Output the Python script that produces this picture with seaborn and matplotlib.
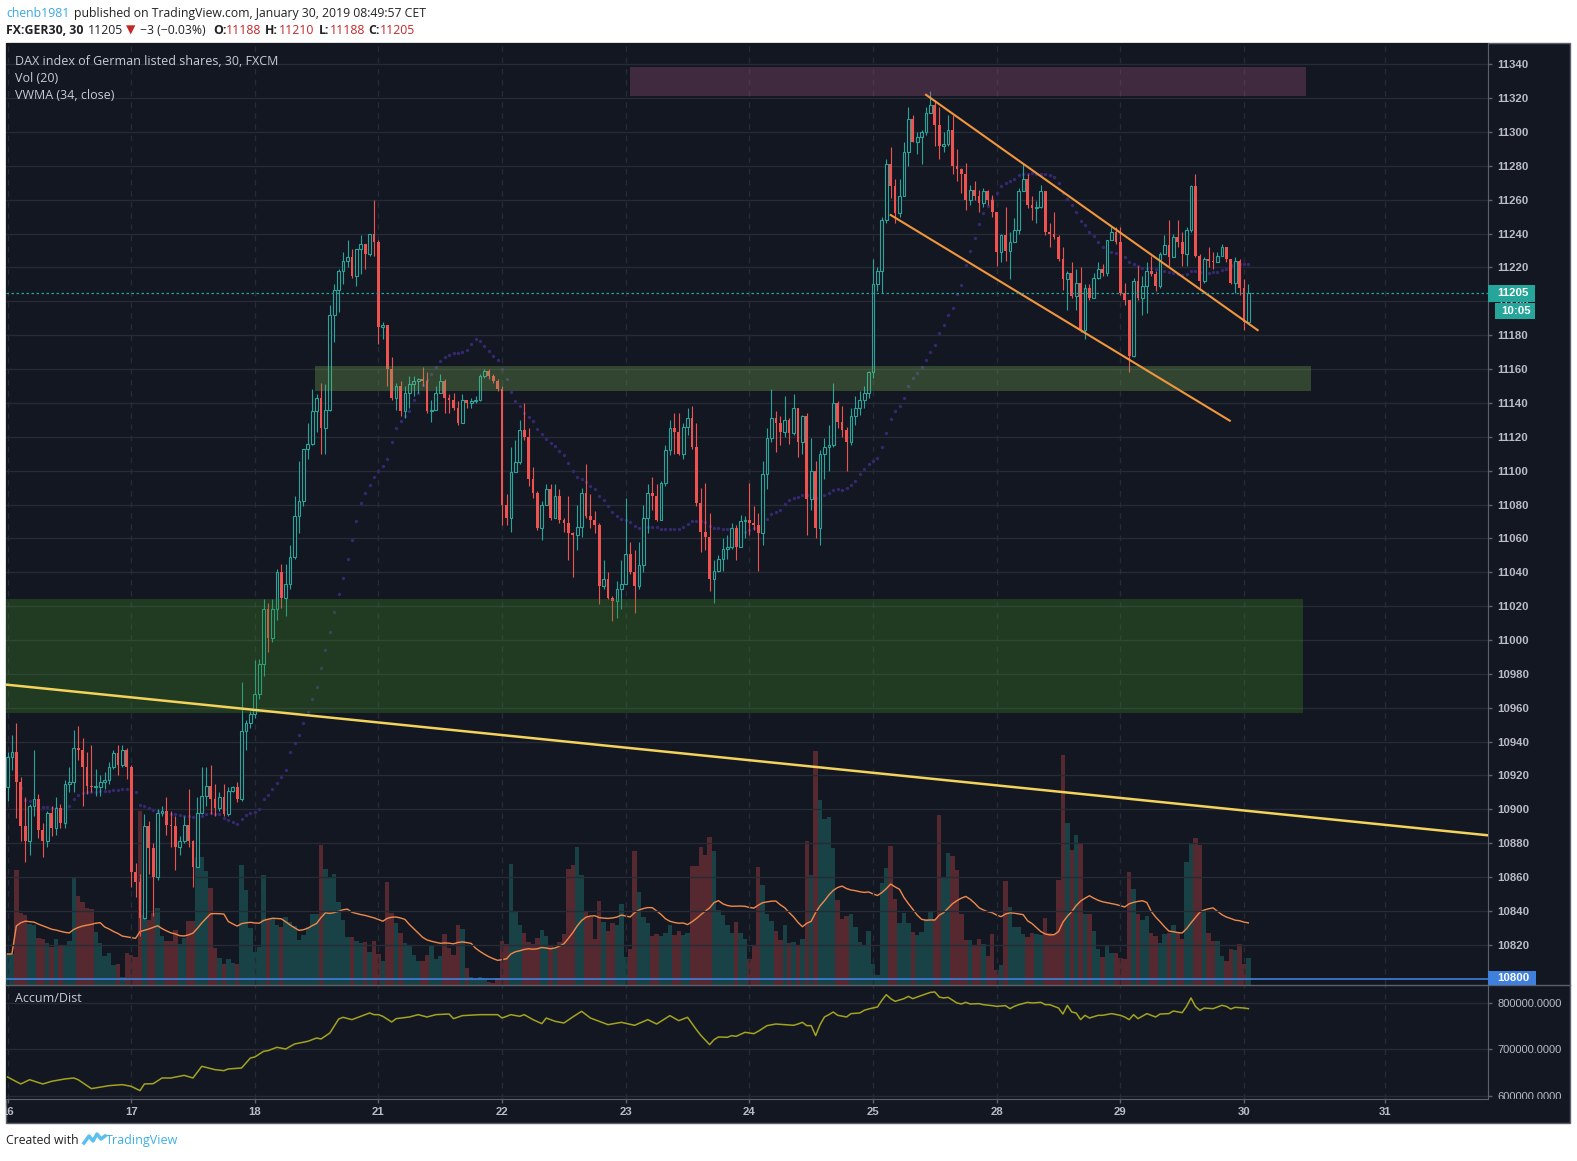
import numpy as np
import pandas as pd
import matplotlib
matplotlib.use("Agg")
import matplotlib.pyplot as plt
import seaborn as sns
from matplotlib.patches import Rectangle
from matplotlib.lines import Line2D
from matplotlib.transforms import Bbox, TransformedBbox

# ---------------- data (FX:GER30, 30 min bars) ----------------
first_open = 10913

closes = [
    # Jan 16
    10931, 10934, 10916, 10890, 10881, 10902, 10906, 10888, 10881, 10898, 10889, 10901, 10892, 10915,
    10916, 10936, 10935, 10925, 10914, 10913, 10913, 10916, 10917, 10925, 10933, 10926, 10935, 10925,
    # Jan 17
    10863, 10857, 10836, 10890, 10877, 10860, 10898, 10899, 10891, 10890, 10878, 10881, 10891, 10881,
    10866, 10898, 10908, 10914, 10906, 10901, 10907, 10897, 10911, 10913, 10906, 10946, 10951, 10956,
    # Jan 18
    10968, 10986, 11018, 11001, 11018, 11040, 11025, 11033, 11049, 11073, 11082, 11113, 11116, 11135,
    11143, 11125, 11136, 11192, 11207, 11218, 11224, 11226, 11215, 11231, 11234, 11228, 11240, 11235,
    # Jan 21
    11185, 11186, 11160, 11143, 11150, 11135, 11146, 11151, 11153, 11154, 11153, 11135, 11136, 11146,
    11153, 11143, 11142, 11137, 11128, 11142, 11140, 11141, 11142, 11156, 11159, 11156, 11153, 11148,
    # Jan 22
    11080, 11072, 11099, 11105, 11124, 11120, 11095, 11087, 11066, 11080, 11089, 11072, 11085, 11071,
    11069, 11063, 11062, 11067, 11087, 11073, 11071, 11068, 11032, 11036, 11025, 11023, 11030, 11033,
    # Jan 23
    11051, 11040, 11032, 11044, 11072, 11087, 11085, 11071, 11093, 11112, 11125, 11123, 11110, 11126,
    11131, 11114, 11081, 11064, 11061, 11036, 11041, 11048, 11054, 11055, 11066, 11055, 11070, 11071,
    # Jan 24
    11069, 11068, 11063, 11098, 11119, 11131, 11128, 11123, 11130, 11122, 11137, 11117, 11132, 11083,
    11100, 11066, 11110, 11114, 11115, 11140, 11129, 11124, 11117, 11132, 11137, 11142, 11146, 11158,
    # Jan 25
    11210, 11218, 11248, 11281, 11268, 11252, 11262, 11288, 11308, 11294, 11297, 11300, 11311, 11316,
    11304, 11292, 11293, 11301, 11280, 11278, 11275, 11260, 11266, 11262, 11258, 11265, 11260, 11253,
    # Jan 28
    11229, 11239, 11230, 11235, 11242, 11265, 11272, 11257, 11255, 11256, 11265, 11241, 11240, 11238,
    11225, 11213, 11217, 11203, 11211, 11183, 11208, 11202, 11214, 11219, 11217, 11236, 11241, 11235,
    # Jan 29
    11205, 11201, 11168, 11212, 11202, 11209, 11218, 11216, 11209, 11228, 11233, 11226, 11238, 11235,
    11228, 11242, 11268, 11227, 11212, 11225, 11224, 11223, 11227, 11232, 11225, 11211, 11224, 11208,
    # Jan 30
    11188, 11205,
]

highs = [
    10934, 10944, 10951, 10919, 10907, 10903, 10935, 10909, 10892, 10899, 10902, 10907, 10903, 10917,
    10925, 10947, 10949, 10942, 10934, 10938, 10924, 10920, 10922, 10928, 10935, 10938, 10938, 10936,
    10926, 10868, 10862, 10897, 10893, 10880, 10900, 10902, 10907, 10899, 10896, 10884, 10896, 10912,
    10882, 10907, 10925, 10925, 10926, 10915, 10910, 10915, 10913, 10914, 10916, 10975, 10953, 10958,
    10988, 10989, 11024, 11022, 11024, 11042, 11045, 11045, 11056, 11085, 11106, 11113, 11128, 11148,
    11145, 11152, 11151, 11198, 11210, 11219, 11229, 11236, 11231, 11231, 11239, 11234, 11240, 11260,
    11236, 11188, 11186, 11167, 11152, 11153, 11150, 11156, 11156, 11155, 11161, 11158, 11142, 11150,
    11157, 11154, 11145, 11146, 11141, 11145, 11142, 11143, 11144, 11157, 11160, 11160, 11157, 11154,
    11150, 11086, 11114, 11118, 11130, 11140, 11125, 11102, 11088, 11082, 11092, 11092, 11092, 11089,
    11072, 11085, 11064, 11080, 11090, 11104, 11086, 11076, 11069, 11047, 11040, 11026, 11035, 11047,
    11084, 11058, 11053, 11058, 11080, 11092, 11096, 11092, 11094, 11115, 11130, 11134, 11134, 11128,
    11137, 11138, 11128, 11090, 11093, 11075, 11047, 11050, 11060, 11062, 11069, 11068, 11074, 11073,
    11093, 11079, 11075, 11106, 11125, 11148, 11135, 11132, 11144, 11131, 11145, 11137, 11133, 11134,
    11119, 11106, 11112, 11119, 11127, 11152, 11141, 11138, 11126, 11137, 11144, 11147, 11150, 11159,
    11225, 11220, 11250, 11284, 11291, 11272, 11272, 11294, 11315, 11310, 11300, 11301, 11315, 11324,
    11319, 11315, 11300, 11310, 11310, 11290, 11279, 11282, 11269, 11271, 11266, 11267, 11266, 11263,
    11253, 11240, 11256, 11241, 11249, 11267, 11281, 11275, 11262, 11259, 11269, 11265, 11246, 11253,
    11239, 11232, 11218, 11223, 11219, 11220, 11210, 11210, 11217, 11223, 11222, 11236, 11244, 11244,
    11244, 11211, 11201, 11214, 11221, 11215, 11223, 11227, 11218, 11229, 11239, 11248, 11240, 11248,
    11241, 11244, 11269, 11275, 11228, 11226, 11232, 11229, 11229, 11234, 11232, 11225, 11226, 11225,
    11213, 11210,
]

lows = [
    10905, 10923, 10895, 10881, 10869, 10873, 10896, 10883, 10872, 10878, 10884, 10885, 10889, 10889,
    10910, 10910, 10929, 10902, 10909, 10910, 10908, 10908, 10912, 10915, 10924, 10920, 10925, 10918,
    10854, 10848, 10825, 10835, 10862, 10837, 10858, 10896, 10885, 10878, 10864, 10873, 10880, 10878,
    10854, 10866, 10897, 10902, 10897, 10896, 10899, 10896, 10896, 10910, 10904, 10905, 10935, 10948,
    10954, 10965, 10979, 10993, 10999, 11012, 11019, 11014, 11030, 11048, 11063, 11079, 11107, 11115,
    11123, 11110, 11110, 11135, 11176, 11194, 11210, 11220, 11214, 11209, 11216, 11219, 11227, 11227,
    11175, 11178, 11150, 11142, 11136, 11132, 11131, 11137, 11144, 11146, 11150, 11134, 11129, 11136,
    11146, 11134, 11134, 11136, 11127, 11128, 11137, 11137, 11140, 11141, 11155, 11154, 11152, 11147,
    11068, 11068, 11064, 11099, 11104, 11118, 11091, 11084, 11065, 11059, 11080, 11071, 11072, 11069,
    11064, 11047, 11037, 11053, 11061, 11072, 11066, 11063, 11021, 11030, 11024, 11011, 11013, 11018,
    11033, 11039, 11016, 11030, 11040, 11063, 11077, 11070, 11071, 11091, 11109, 11110, 11109, 11107,
    11121, 11113, 11079, 11052, 11053, 11029, 11022, 11040, 11041, 11048, 11054, 11047, 11055, 11060,
    11062, 11065, 11041, 11056, 11089, 11117, 11111, 11115, 11120, 11116, 11121, 11108, 11110, 11062,
    11077, 11060, 11056, 11095, 11100, 11114, 11125, 11120, 11100, 11115, 11127, 11133, 11137, 11143,
    11155, 11206, 11205, 11246, 11261, 11246, 11250, 11262, 11280, 11294, 11287, 11281, 11298, 11311,
    11292, 11284, 11288, 11292, 11275, 11271, 11264, 11254, 11257, 11260, 11253, 11256, 11257, 11250,
    11221, 11223, 11224, 11213, 11235, 11240, 11265, 11255, 11248, 11246, 11255, 11239, 11232, 11237,
    11224, 11207, 11195, 11202, 11195, 11182, 11178, 11201, 11202, 11213, 11215, 11215, 11236, 11234,
    11204, 11198, 11158, 11167, 11201, 11192, 11193, 11215, 11206, 11208, 11228, 11221, 11226, 11232,
    11221, 11221, 11241, 11226, 11207, 11211, 11220, 11219, 11223, 11227, 11223, 11210, 11205, 11204,
    11183, 11188,
]

# volume, relative units (no scale shown on the chart)
volumes = [
    31, 31, 115, 72, 70, 61, 60, 47, 46, 42, 38, 46, 39, 39, 44, 107, 89, 83, 77, 76, 53, 42, 29, 32, 20, 21, 8, 32,
    30, 28, 174, 70, 65, 72, 77, 49, 44, 44, 55, 41, 47, 64, 64, 128, 128, 114, 97, 37, 27, 21, 26, 22, 21, 120, 95, 57,
    33, 38, 110, 66, 66, 60, 58, 68, 63, 59, 45, 50, 58, 71, 71, 140, 116, 108, 111, 83, 65, 48, 48, 44, 42, 43, 33, 44,
    31, 24, 103, 72, 62, 52, 42, 40, 30, 24, 24, 30, 39, 26, 29, 51, 37, 30, 60, 56, 17, 8, 6, 8, 6, 3, 2, 7,
    44, 41, 121, 73, 60, 52, 43, 41, 47, 55, 49, 40, 37, 43, 51, 116, 120, 138, 110, 74, 68, 46, 84, 63, 54, 62, 60, 81,
    28, 36, 134, 93, 68, 62, 49, 51, 49, 52, 60, 50, 54, 50, 52, 119, 119, 138, 130, 148, 134, 75, 70, 60, 52, 63, 52, 46,
    26, 39, 118, 100, 71, 64, 54, 45, 60, 42, 43, 39, 46, 144, 110, 234, 185, 166, 168, 137, 85, 66, 69, 71, 58, 43, 40, 54,
    21, 10, 102, 117, 139, 86, 62, 72, 62, 53, 50, 53, 66, 73, 66, 170, 108, 132, 129, 115, 71, 45, 45, 40, 46, 41, 29, 51,
    15, 20, 104, 78, 58, 58, 51, 48, 52, 51, 50, 67, 52, 51, 105, 230, 162, 135, 150, 141, 71, 71, 54, 36, 28, 40, 32, 32,
    27, 26, 113, 96, 71, 65, 69, 52, 49, 42, 51, 52, 60, 53, 46, 123, 142, 147, 140, 75, 52, 44, 44, 29, 24, 36, 35, 41,
    21, 27,
]

# Accumulation/Distribution readings (bar, value)
ad_readings = [
    (0, 640900), (3, 625800), (5, 635000), (8, 625800), (10, 631600), (13, 636600), (15, 638700),
    (16, 635000), (19, 615800), (23, 622200), (26, 624400), (28, 620800), (30, 611500), (31, 625800),
    (33, 626500), (35, 638700), (37, 638700), (40, 644400), (42, 638700), (44, 663800), (47, 656600),
    (49, 654500), (50, 658100), (53, 660200), (55, 681700), (56, 683900), (58, 696100), (59, 697500),
    (61, 704700), (63, 701100), (65, 711800), (68, 717600), (70, 724700), (71, 722600), (73, 735500),
    (75, 765600), (76, 769200), (78, 764200), (80, 771300), (82, 778500), (83, 774900), (84, 774900),
    (85, 771300), (87, 759100), (88, 766300), (91, 769900), (93, 774900), (95, 769900), (97, 774900),
    (100, 776300), (101, 766300), (103, 772800), (107, 774900), (111, 774900), (112, 767700),
    (114, 774900), (116, 771300), (117, 774900), (119, 764200), (121, 755600), (122, 767700),
    (124, 760600), (126, 757000), (128, 769900), (130, 782100), (132, 767700), (134, 760600),
    (136, 753400), (139, 758400), (142, 752000), (145, 764200), (147, 754800), (150, 772800),
    (152, 762000), (154, 769200), (156, 742700), (157, 730500), (159, 710400), (160, 721200),
    (161, 726900), (163, 726200), (164, 729800), (165, 728300), (167, 736900), (169, 734100),
    (170, 739100), (172, 751300), (174, 754800), (176, 753400), (178, 752000), (179, 754800),
    (180, 758400), (181, 751300), (182, 751300), (183, 729800), (184, 753400), (185, 769900),
    (186, 774900), (187, 780600), (188, 773500), (190, 769900), (191, 777100), (193, 778500),
    (194, 784200), (195, 787100), (197, 791400), (198, 805700), (199, 817900), (200, 809300),
    (201, 803600), (203, 809300), (204, 814300), (205, 809300), (206, 812900), (208, 819400),
    (209, 822900), (210, 823700), (211, 812900), (212, 810800), (213, 812200), (215, 800000),
    (216, 797900), (217, 801400), (218, 797900), (220, 798600), (221, 796400), (223, 794300),
    (224, 792800), (226, 794300), (227, 787800), (228, 792800), (229, 796400), (231, 801400),
    (232, 800000), (234, 801400), (235, 796400), (236, 796400), (238, 789200), (239, 776300),
    (240, 795000), (241, 780600), (242, 778500), (243, 764200), (244, 773500), (245, 767700),
    (247, 773500), (248, 773500), (250, 777100), (252, 773500), (253, 769900), (254, 764200),
    (255, 774900), (256, 766300), (258, 777100), (260, 769900), (261, 776300), (263, 777100),
    (264, 782800), (266, 779200), (267, 792800), (268, 810800), (269, 792800), (270, 784200),
    (271, 789200), (273, 787800), (275, 795000), (276, 792800), (277, 787000), (278, 790700),
    (280, 789200), (281, 787800),
]

day_labels = ['16', '17', '18', '21', '22', '23', '24', '25', '28', '29', '30', '31']
day_first_bar = [0, 28, 56, 84, 112, 140, 168, 196, 224, 252, 280, 312]
price_ticks = list(range(10820, 11341, 20))
ad_ticks = [600000, 700000, 800000]

# drawings on the chart, in (bar, price)
supply_box = (141.0, 294.0, 11321.3, 11338.4)
upper_zone = (69.6, 295.2, 11147.2, 11161.6)
lower_zone = (-1.0, 293.4, 10956.7, 11024.0)
long_trend = ([-1, 335.3], [10973.8, 10884.6])
channel_top = ([208, 283.1], [11322, 11183])
channel_bottom = ([200, 276.8], [11251, 11129.5])
last_price = 11205
blue_level = 10800

# ---------------- styling ----------------
W, H = 1577, 1161
BG = '#131722'
GRID = '#272b36'
FRAME = '#5d606b'
TXT = '#b9bcc4'
UP = '#26a69a'
DOWN = '#ef5350'
BLUE = '#3f7fdd'
AXF = 8.2


def fx(x):
    return x / W


def fy(y):
    return 1 - y / H


c = np.array(closes, dtype=float)
hi = np.array(highs, dtype=float)
lo = np.array(lows, dtype=float)
vol = np.array(volumes, dtype=float)
o = np.r_[first_open, c[:-1]]
bars = np.arange(len(c))
up = c >= o

df = pd.DataFrame({'bar': bars, 'close': c, 'vol': vol})
df['vwma'] = (df.close * df.vol).rolling(34, min_periods=1).sum() / df.vol.rolling(34, min_periods=1).sum()
df['vol_ma'] = df.vol.rolling(20, min_periods=1).mean()
ad = pd.DataFrame(ad_readings, columns=['bar', 'ad'])

fig = plt.figure(figsize=(W / 100, H / 100), dpi=100, facecolor='white')
bg = Rectangle((fx(6), fy(1123)), fx(1570) - fx(6), fy(43) - fy(1123), transform=fig.transFigure,
               facecolor=BG, edgecolor=FRAME, lw=1, zorder=-5)
fig.patches.append(bg)

ax = fig.add_axes([fx(6), fy(985), fx(1488) - fx(6), fy(43) - fy(985)])
vax = ax.twinx()
ax_ad = fig.add_axes([fx(6), fy(1099), fx(1488) - fx(6), fy(985) - fy(1099)], sharex=ax)

vax.set_zorder(0)
ax.set_zorder(1)
ax.patch.set_visible(False)
vax.patch.set_visible(True)
vax.patch.set_facecolor(BG)
ax_ad.set_facecolor(BG)

for a in (ax, vax, ax_ad):
    for s in a.spines.values():
        s.set_visible(False)
for a in (ax, ax_ad):
    a.spines['right'].set_visible(True)
    a.spines['right'].set_color(FRAME)
ax_ad.spines['bottom'].set_visible(True)
ax_ad.spines['bottom'].set_color(FRAME)

ax.set_xlim(-0.34, 335.26)
ax.set_ylim(10796.2, 11352.6)
ax_ad.set_ylim(593500, 838700)

# volume underneath
vcols = [(0.149, 0.651, 0.604, 0.3) if u else (0.937, 0.325, 0.314, 0.3) for u in up]
vax.bar(bars, vol, width=1.0, color=vcols, linewidth=0)
sns.lineplot(data=df, x='bar', y='vol_ma', ax=vax, color='#f08a4b', lw=1, legend=False)
vax.set_ylim(0, vol.max() / 0.2485)
vax.set_yticks([])
vax.set_ylabel('')

# grid
ax.set_xticks(day_first_bar)
ax.set_yticks(price_ticks, labels=[str(p) for p in price_ticks], fontsize=AXF, fontweight='bold',
              color=TXT, family='Liberation Sans')
ax.yaxis.tick_right()
ax.tick_params(axis='x', length=0, labelbottom=False)
ax.tick_params(axis='y', length=3, width=1, color=FRAME, pad=4)
ax.grid(axis='y', color=GRID, lw=1, zorder=0)
ax.grid(axis='x', color=GRID, lw=1, ls=(0, (4, 4)), zorder=0)
ax.set_axisbelow(True)

# VWMA dots
sns.scatterplot(data=df, x='bar', y='vwma', ax=ax, s=6, color='#35286e', linewidth=0, legend=False, zorder=2)

# candles
ax.vlines(bars, lo, hi, colors=[UP if u else DOWN for u in up], lw=0.8, zorder=3)
body_lo = np.minimum(o, c)
body_h = np.maximum(np.abs(c - o), 0.7)
ax.bar(bars[up], body_h[up], bottom=body_lo[up], width=0.62, facecolor=BG, edgecolor=UP, linewidth=0.8, zorder=4)
ax.bar(bars[~up], body_h[~up], bottom=body_lo[~up], width=0.62, color=DOWN, linewidth=0, zorder=4)

# zones and lines
for (x0, x1, y0, y1), col in [(supply_box, '#a65686'), (upper_zone, '#77b054'), (lower_zone, '#428c25')]:
    ax.add_patch(Rectangle((x0, y0), x1 - x0, y1 - y0, facecolor=col, alpha=0.3, linewidth=0, zorder=5))
ax.plot(*long_trend, color='#f3d35b', lw=1.8, zorder=6, solid_capstyle='butt')
ax.plot(*channel_top, color='#f0963c', lw=1.5, zorder=6)
ax.plot(*channel_bottom, color='#f0963c', lw=1.5, zorder=6)
ax.axhline(last_price, color=UP, lw=0.9, ls=(0, (2, 2)), zorder=6)
ax.axhline(blue_level, color=BLUE, lw=1.2, zorder=6)
ax.set_xlabel('')
ax.set_ylabel('')

# Accum/Dist pane
sns.lineplot(data=ad, x='bar', y='ad', ax=ax_ad, color='#a3a31e', lw=1.1, legend=False)
ax_ad.set_xticks(day_first_bar, labels=day_labels, fontsize=AXF, fontweight='bold', color=TXT,
                 family='Liberation Sans')
ax_ad.set_yticks(ad_ticks, labels=[f'{t:.4f}' for t in ad_ticks], fontsize=8, color=TXT,
                 family='Liberation Sans')
ax_ad.yaxis.tick_right()
ax_ad.tick_params(axis='x', length=3, width=1, color=FRAME, pad=3)
ax_ad.tick_params(axis='y', length=3, width=1, color=FRAME, pad=4)
ax_ad.grid(axis='y', color=GRID, lw=1)
ax_ad.grid(axis='x', color=GRID, lw=1, ls=(0, (4, 4)))
ax_ad.set_axisbelow(True)
ax_ad.set_xlabel('')
ax_ad.set_ylabel('')
ax.set_xlim(-0.34, 335.26)

# clip labels that TradingView cuts at the pane edges
frame_clip = TransformedBbox(Bbox([[fx(6), 0], [1, 1]]), fig.transFigure)
ax_ad.get_xticklabels()[0].set_clip_box(frame_clip)
ax_ad.get_xticklabels()[0].set_clip_on(True)
pane_clip = TransformedBbox(Bbox([[fx(1488), fy(1099)], [fx(1570), fy(985)]]), fig.transFigure)
for lbl in ax_ad.get_yticklabels():
    lbl.set_clip_box(pane_clip)
    lbl.set_clip_on(True)

fig.lines.append(Line2D([fx(6), fx(1570)], [fy(985), fy(985)], transform=fig.transFigure,
                        color=FRAME, lw=1, zorder=5))

# price axis labels
for (x0, y0, x1, y1, col, txt) in [(1488, 285, 1535, 302, UP, '11205'),
                                   (1495, 303, 1535, 319, UP, '10:05'),
                                   (1488, 971, 1536, 985, BLUE, '10800')]:
    fig.patches.append(Rectangle((fx(x0), fy(y1)), fx(x1) - fx(x0), fy(y0) - fy(y1),
                                 transform=fig.transFigure, facecolor=col, lw=0, zorder=6))
    fig.text(fx((x0 + x1) / 2 + 1), fy((y0 + y1) / 2), txt, ha='center', va='center', color='white',
             fontsize=AXF, fontweight='bold', family='Liberation Sans', zorder=7)

# chart legend
LEG = '#c9ccd3'
fig.text(fx(15), fy(65), 'DAX index of German listed shares, 30, FXCM', fontsize=9, color=LEG,
         family='Open Sans', va='baseline')
fig.text(fx(15), fy(82), 'Vol (20)', fontsize=9, color=LEG, family='Open Sans', va='baseline')
fig.text(fx(15), fy(99), 'VWMA (34, close)', fontsize=9, color=LEG, family='Open Sans', va='baseline')
fig.text(fx(15), fy(1002), 'Accum/Dist', fontsize=9, color=LEG, family='Open Sans', va='baseline')

# header
FAM = ['Open Sans', 'DejaVu Sans']
RED = '#c62828'
DARK = '#222222'
HF = 8.8
fig.text(fx(6), fy(17), 'chenb1981', fontsize=HF, color='#3ba9e0', family=FAM, va='baseline')
fig.text(fx(74), fy(17), 'published on TradingView.com, January 30, 2019 08:49:57 CET', fontsize=HF,
         color=DARK, family=FAM, va='baseline')
header2 = [(6, 'FX:GER30, 30', DARK, 'bold'), (88, '11205', DARK, 'normal'), (126, '▼', RED, 'normal'),
           (140, '−3 (−0.03%)', DARK, 'normal'), (213, 'O:', DARK, 'bold'), (226, '11188', RED, 'normal'),
           (265, 'H:', DARK, 'bold'), (279, '11210', RED, 'normal'), (319, 'L:', DARK, 'bold'),
           (330, '11188', RED, 'normal'), (368, 'C:', DARK, 'bold'), (380, '11205', RED, 'normal')]
for x, s, col, wt in header2:
    fig.text(fx(x), fy(34), s, fontsize=HF, color=col, fontweight=wt, family=FAM, va='baseline')

# footer
fig.text(fx(6), fy(1144), 'Created with', fontsize=HF, color=DARK, family=FAM, va='baseline')
fig.lines.append(Line2D([fx(x) for x in (84, 89, 93, 97, 101, 105)],
                        [fy(y) for y in (1143, 1136, 1141, 1134, 1139, 1136)],
                        transform=fig.transFigure, color='#5bc0ec', lw=2.5, solid_joinstyle='round'))
fig.text(fx(106), fy(1144), 'TradingView', fontsize=9, color='#3bb0e6', family=FAM, va='baseline')

fig.savefig('out.png', dpi=100, facecolor='white')
